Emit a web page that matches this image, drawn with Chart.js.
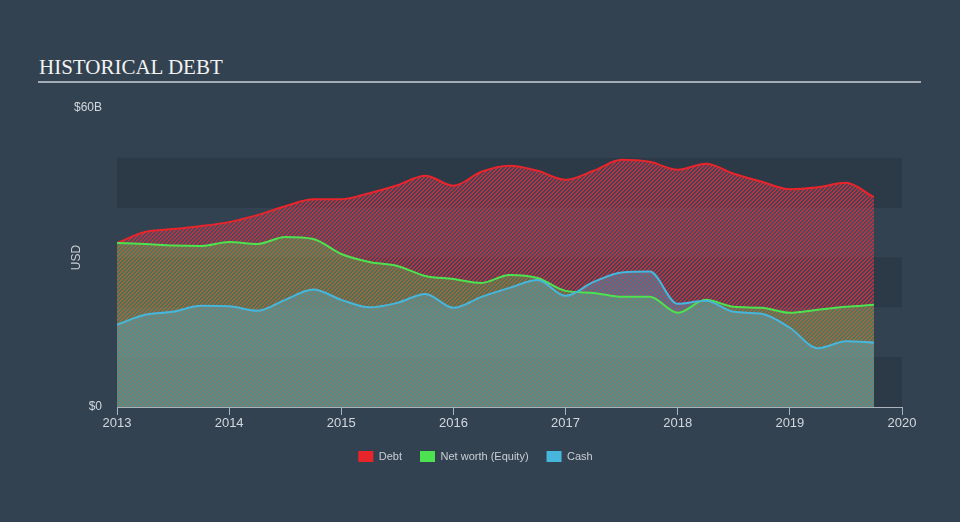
<!DOCTYPE html>
<html>
<head>
<meta charset="utf-8">
<script src="https://cdn.jsdelivr.net/npm/chart.js@4.4.1/dist/chart.umd.min.js"></script>
<style>
  html, body { margin: 0; padding: 0; background: #334251; }
  #wrap { position: relative; width: 960px; height: 522px; overflow: hidden; }
  #title {
    position: absolute; left: 39px; top: 55px;
    font-family: "Liberation Serif", serif; font-size: 21px; color: #f2f2f2;
  }
  #rule { position: absolute; left: 38px; top: 81px; width: 883px; height: 2px; background: #a3abb4; }
  canvas { position: absolute; left: 0; top: 0; }
</style>
</head>
<body>
<div id="wrap">
  <div id="title">HISTORICAL DEBT</div>
  <div id="rule"></div>
  <canvas id="chart" width="960" height="522"></canvas>
</div>
<script>
// quarterly dates (fractional years) and values in $B
const dates = [2013.0, 2013.25, 2013.5, 2013.75, 2014.0, 2014.25, 2014.5, 2014.75,
  2015.0, 2015.25, 2015.5, 2015.75, 2016.0, 2016.25, 2016.5, 2016.75,
  2017.0, 2017.25, 2017.5, 2017.75, 2018.0, 2018.25, 2018.5, 2018.75,
  2019.0, 2019.25, 2019.5, 2019.75];
const debt = [32.9, 35.1, 35.7, 36.3, 37.1, 38.5, 40.3, 41.7,
  41.7, 42.9, 44.5, 46.4, 44.4, 47.2, 48.4, 47.4,
  45.6, 47.4, 49.6, 49.2, 47.6, 48.8, 46.8, 45.2,
  43.7, 44.1, 45.0, 42.1];
const equity = [32.9, 32.7, 32.4, 32.3, 33.1, 32.7, 34.1, 33.7,
  30.7, 29.1, 28.3, 26.3, 25.7, 24.9, 26.5, 25.9,
  23.3, 22.9, 22.1, 22.1, 18.9, 21.5, 20.1, 19.9,
  18.9, 19.5, 20.1, 20.5];
const cash = [16.5, 18.5, 19.1, 20.3, 20.2, 19.3, 21.5, 23.6,
  21.5, 20.0, 20.9, 22.7, 19.9, 22.1, 23.9, 25.5,
  22.3, 25.1, 27.0, 27.2, 20.7, 21.3, 19.1, 18.7,
  15.9, 11.8, 13.2, 12.9];
const yTicks = [0, 60];
const bands = [[0, 10], [20, 30], [40, 50]];

const ctx = document.getElementById("chart");
const g2 = ctx.getContext("2d");

// 4px diagonal stripes: "a" colour on two diagonals, "b" colour on the other two
function hatch(a, b) {
  const c = document.createElement("canvas");
  c.width = 4; c.height = 4;
  const g = c.getContext("2d");
  for (let x = 0; x < 4; x++) {
    for (let y = 0; y < 4; y++) {
      g.fillStyle = (x + y) % 4 < 2 ? a : b;
      g.fillRect(x, y, 1, 1);
    }
  }
  return g2.createPattern(c, "repeat");
}

const pts = (arr) => arr.map((v, i) => ({ x: dates[i], y: v }));

// darker horizontal bands behind the data
const bandPlugin = {
  id: "bands",
  beforeDraw(chart) {
    const { ctx, chartArea, scales } = chart;
    ctx.save();
    ctx.fillStyle = "#2c3947";
    bands.forEach(([a, b]) => {
      const y1 = scales.y.getPixelForValue(b);
      const y2 = scales.y.getPixelForValue(a);
      ctx.fillRect(chartArea.left, y1, chartArea.right - chartArea.left, y2 - y1);
    });
    ctx.restore();
  },
};

const tickFont = { family: "'Liberation Sans', Arial, sans-serif", size: 12 };

const chart = new Chart(ctx, {
  type: "line",
  data: {
    datasets: [
      {
        label: "Debt",
        data: pts(debt),
        order: 3, // drawn first, underneath
        borderColor: "#e8252b",
        backgroundColor: hatch("rgba(232,48,56,0.75)", "rgba(150,110,170,0.2)"),
        fill: "origin",
      },
      {
        label: "Net worth (Equity)",
        data: pts(equity),
        order: 2,
        borderColor: "#4de24f",
        backgroundColor: "rgba(90,226,79,0.3)",
        fill: "origin",
      },
      {
        label: "Cash",
        data: pts(cash),
        order: 1,
        borderColor: "#47b6dc",
        backgroundColor: hatch("rgba(71,182,220,0.25)", "rgba(71,182,220,0.45)"),
        fill: "origin",
      },
    ],
  },
  options: {
    responsive: false,
    animation: false,
    events: [],
    elements: {
      point: { radius: 0 },
      line: { borderWidth: 2, cubicInterpolationMode: "monotone" },
    },
    layout: { padding: { top: 108, left: 49, right: 58, bottom: 50 } },
    scales: {
      x: {
        type: "linear",
        min: 2013,
        max: 2020,
        ticks: {
          stepSize: 1,
          padding: 1,
          color: "#d3d8dd",
          font: { family: tickFont.family, size: 13 },
          callback: (v) => String(v),
          maxRotation: 0,
        },
        grid: { drawOnChartArea: false, drawTicks: true, tickLength: 8, color: "#aab3bc" },
        border: { display: true, color: "#aab3bc", width: 1 },
        afterFit: (s) => { s.height = 26; },
      },
      y: {
        min: 0,
        max: 60,
        afterBuildTicks: (s) => { s.ticks = yTicks.map((v) => ({ value: v })); },
        ticks: {
          padding: 15,
          color: "#d3d8dd",
          font: tickFont,
          callback: (v) => (v === 0 ? "$0" : "$" + v + "B"),
        },
        grid: { display: false, drawTicks: false },
        border: { display: false },
        title: {
          display: true, text: "USD", color: "#c9ced3", font: tickFont,
          padding: { top: 20, bottom: 4 },
        },
        afterFit: (s) => { s.width = 68; },
      },
    },
    plugins: {
      filler: { drawTime: "beforeDatasetsDraw" },
      legend: {
        position: "bottom",
        labels: {
          boxWidth: 15,
          boxHeight: 11,
          padding: 18,
          color: "#c9ced3",
          font: { family: tickFont.family, size: 11 },
          generateLabels: (chart) =>
            chart.data.datasets.map((ds, i) => ({
              text: ds.label,
              fillStyle: ds.borderColor,
              strokeStyle: ds.borderColor,
              lineWidth: 0,
              hidden: false,
              datasetIndex: i,
              fontColor: "#c9ced3",
            })),
        },
      },
      tooltip: { enabled: false },
    },
  },
  plugins: [bandPlugin],
});
</script>
</body>
</html>
